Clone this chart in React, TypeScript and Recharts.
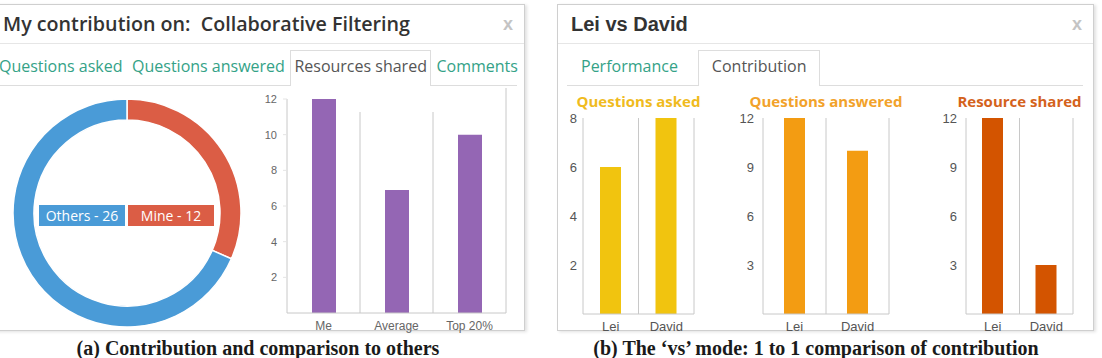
import { Bar, BarChart, CartesianGrid, Cell, Pie, PieChart, XAxis, YAxis } from "recharts";

// donut: my share vs everybody else
const SHARE_NAMES = ["Mine", "Others"];
const SHARE_VALUES = [12, 26];
const SHARE_COLORS = ["#db5d45", "#4a9bd7"];

// resources shared: me vs average vs top 20%
const COMPARE_CATEGORIES = ["Me", "Average", "Top 20%"];
const COMPARE_VALUES = [12, 6.9, 10];
const COMPARE_TICKS = [2, 4, 6, 8, 10, 12];

// vs mode
const VS_PEOPLE = ["Lei", "David"];
const ASKED_VALUES = [6, 8];
const ANSWERED_VALUES = [12, 10];
const SHARED_VALUES = [12, 3];
const ASKED_TICKS = [2, 4, 6, 8];
const COUNT_TICKS = [3, 6, 9, 12];

const LEFT_TABS = ["Questions asked", "Questions answered", "Resources shared", "Comments"];
const RIGHT_TABS = ["Performance", "Contribution"];

const OPEN = "'Open Sans', sans-serif";
const ARIAL = "'Liberation Sans', Arial, sans-serif";
const LINE = "#c8c8c8";

const compareData = COMPARE_CATEGORIES.map((name, i) => ({ name, value: COMPARE_VALUES[i] }));
const shareData = SHARE_NAMES.map((name, i) => ({ name, value: SHARE_VALUES[i] }));
const vsData = (values: number[]) => VS_PEOPLE.map((name, i) => ({ name, value: values[i] }));

// vertical lines on the boundaries between categories (k-th of n)
const boundaries = (n: number, ks: number[]) => ({ offset }: any) =>
  ks.map((k) => offset.left + (offset.width * k) / n);

function Tabs({
  tabs,
  active,
  left,
  width,
  pad,
  gap,
}: {
  tabs: string[];
  active: number;
  left: number;
  width: number;
  pad: number;
  gap: number;
}) {
  return (
    <div
      style={{
        position: "absolute",
        left,
        top: 50,
        width,
        height: 35,
        borderBottom: "1px solid #ddd",
        display: "flex",
        alignItems: "stretch",
      }}
    >
      {tabs.map((t, i) => (
        <div
          key={t}
          style={{
            padding: `0 ${pad}px`,
            marginRight: gap,
            border: "1px solid " + (i === active ? "#ddd" : "transparent"),
            borderBottom: "none",
            background: i === active ? "#fff" : "transparent",
            marginBottom: -1,
            color: i === active ? "#555" : "#34a287",
            fontFamily: OPEN,
            fontSize: 16,
            lineHeight: "30px",
            whiteSpace: "nowrap",
          }}
        >
          {t}
        </div>
      ))}
    </div>
  );
}

function Panel({ left, width, title, titleFont }: { left: number; width: number; title: string; titleFont: React.CSSProperties }) {
  return (
    <div
      style={{
        position: "absolute",
        left,
        top: 4,
        width,
        height: 325,
        border: "1px solid #cfcfcf",
        boxShadow: "2px 1px 3px rgba(0,0,0,0.12)",
        background: "#fff",
      }}
    >
      <div
        style={{
          position: "absolute",
          left: 0,
          right: 0,
          top: 0,
          height: 38,
          borderBottom: "1px solid #e6e6e6",
        }}
      />
      <div style={{ position: "absolute", top: 5, lineHeight: "28px", color: "#333", whiteSpace: "pre", ...titleFont }}>
        {title}
      </div>
      <div
        style={{
          position: "absolute",
          right: 11,
          top: 5,
          lineHeight: "28px",
          color: "#c4c4c4",
          fontFamily: ARIAL,
          fontWeight: 700,
          fontSize: 18,
        }}
      >
        x
      </div>
    </div>
  );
}

function VsChart({
  title,
  color,
  titleColor,
  values,
  ticks,
  max,
  axisX,
  plotRight,
  tickMargin,
}: {
  title: string;
  color: string;
  titleColor: string;
  values: number[];
  ticks: number[];
  max: number;
  axisX: number;
  plotRight: number;
  tickMargin: number;
}) {
  const yw = 40;
  const left = axisX - yw;
  const width = plotRight + 4 - left;
  return (
    <>
      <div
        style={{
          position: "absolute",
          left: axisX - 60,
          width: plotRight - axisX + 120,
          top: 91,
          textAlign: "center",
          color: titleColor,
          fontFamily: OPEN,
          fontWeight: 700,
          fontSize: 15,
          lineHeight: "20px",
        }}
      >
        {title}
      </div>
      <div style={{ position: "absolute", left, top: 88 }}>
        <BarChart width={width} height={250} data={vsData(values)} margin={{ top: 30, right: 4, bottom: 0, left: 0 }}>
          <CartesianGrid
            horizontal={false}
            stroke={LINE}
            verticalCoordinatesGenerator={boundaries(2, [1, 2])}
          />
          <XAxis
            dataKey="name"
            interval={0}
            height={24}
            tickLine={false}
            axisLine={{ stroke: LINE }}
            tick={{ fill: "#555", fontSize: 13, fontFamily: ARIAL }}
          />
          <YAxis
            domain={[0, max]}
            ticks={ticks}
            width={yw}
            tickLine={false}
            tickSize={0}
            tickMargin={tickMargin}
            axisLine={{ stroke: LINE }}
            tick={{ fill: "#555", fontSize: 13, fontFamily: ARIAL }}
          />
          <Bar dataKey="value" fill={color} barSize={21} isAnimationActive={false} />
        </BarChart>
      </div>
    </>
  );
}

export default function App() {
  return (
    <div style={{ position: "absolute", left: 0, top: 0, width: 1102, height: 358, background: "#fff", overflow: "hidden" }}>
      <Panel
        left={-20}
        width={543}
        title="My contribution on:  Collaborative Filtering"
        titleFont={{ left: 22, fontFamily: OPEN, fontWeight: 600, fontSize: 19.7 }}
      />
      <Panel
        left={557}
        width={535}
        title="Lei vs David"
        titleFont={{ left: 13, fontFamily: ARIAL, fontWeight: 700, fontSize: 20 }}
      />
      <Tabs tabs={LEFT_TABS} active={2} left={-5} width={522} pad={3} gap={1.5} />
      <Tabs tabs={RIGHT_TABS} active={1} left={567} width={516} pad={13} gap={6} />

      {/* donut */}
      <div style={{ position: "absolute", left: 0, top: 90 }}>
        <PieChart width={254} height={246} margin={{ top: 0, right: 0, bottom: 0, left: 0 }}>
          <Pie
            data={shareData}
            dataKey="value"
            cx={127}
            cy={123}
            innerRadius={93}
            outerRadius={114}
            startAngle={90}
            endAngle={-270}
            stroke="#fff"
            strokeWidth={1.5}
            isAnimationActive={false}
          >
            {shareData.map((d, i) => (
              <Cell key={d.name} fill={SHARE_COLORS[i]} />
            ))}
          </Pie>
        </PieChart>
      </div>
      <div style={{ position: "absolute", left: 39, top: 205, display: "flex", gap: 3 }}>
        {[1, 0].map((i) => (
          <div
            key={SHARE_NAMES[i]}
            style={{
              width: 86,
              height: 21,
              lineHeight: "21px",
              textAlign: "center",
              background: SHARE_COLORS[i],
              color: "#fff",
              fontFamily: OPEN,
              fontSize: 14,
            }}
          >
            {`${SHARE_NAMES[i]} - ${SHARE_VALUES[i]}`}
          </div>
        ))}
      </div>

      {/* me vs others */}
      <div style={{ position: "absolute", left: 240, top: 88 }}>
        <BarChart width={280} height={250} data={compareData} margin={{ top: 11, right: 14, bottom: 0, left: 0 }}>
          <CartesianGrid
            horizontal={false}
            stroke={LINE}
            y={24}
            height={201}
            verticalCoordinatesGenerator={boundaries(3, [1, 2])}
          />
          <CartesianGrid
            horizontal={false}
            stroke={LINE}
            y={0}
            height={225}
            verticalCoordinatesGenerator={boundaries(3, [3])}
          />
          <XAxis
            dataKey="name"
            interval={0}
            height={25}
            tickLine={false}
            axisLine={{ stroke: LINE }}
            tick={{ fill: "#666", fontSize: 12, fontFamily: ARIAL }}
          />
          <YAxis
            domain={[0, 12]}
            ticks={COMPARE_TICKS}
            width={47}
            tickSize={4}
            tickMargin={6}
            tickLine={{ stroke: "#e4e4e4" }}
            axisLine={{ stroke: LINE }}
            tick={{ fill: "#666", fontSize: 11, fontFamily: ARIAL }}
          />
          <Bar dataKey="value" fill="#9466b4" barSize={24} isAnimationActive={false} />
        </BarChart>
      </div>

      <VsChart title="Questions asked" color="#f1c40f" titleColor="#f0bb1e" values={ASKED_VALUES} ticks={ASKED_TICKS} max={8} axisX={583} plotRight={694} tickMargin={6} />
      <VsChart title="Questions answered" color="#f39c12" titleColor="#f2a22a" values={ANSWERED_VALUES} ticks={COUNT_TICKS} max={12} axisX={763} plotRight={889} tickMargin={9} />
      <VsChart title="Resource shared" color="#d35400" titleColor="#d4621c" values={SHARED_VALUES} ticks={COUNT_TICKS} max={12} axisX={966} plotRight={1073} tickMargin={9} />

      {/* captions */}
      {[
        { text: "(a) Contribution and comparison to others", center: 258 },
        { text: "(b) The \u2018vs\u2019 mode: 1 to 1 comparison of contribution", center: 816 },
      ].map((c) => (
        <div
          key={c.text}
          style={{
            position: "absolute",
            left: c.center - 300,
            width: 600,
            top: 336,
            textAlign: "center",
            fontFamily: "'Liberation Serif', 'Times New Roman', serif",
            fontWeight: 700,
            fontSize: 20,
            lineHeight: "24px",
            color: "#1a1a1a",
          }}
        >
          {c.text}
        </div>
      ))}
    </div>
  );
}
